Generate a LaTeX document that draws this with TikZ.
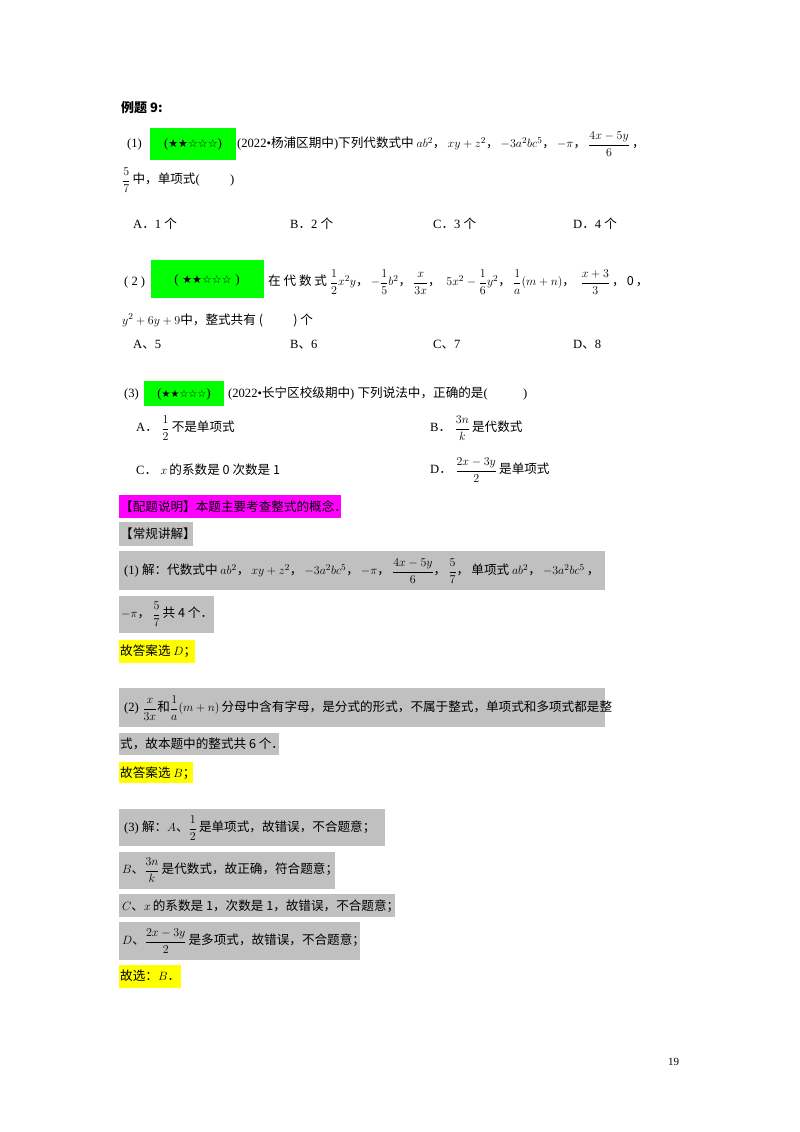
\documentclass[tikz,border=0pt]{standalone}
\usepackage{amsmath}
\usepackage{fontspec}
\setmainfont{Liberation Serif}
\newfontfamily\cjk{Noto Sans CJK SC}
\newfontfamily\djv{DejaVu Sans}
\XeTeXinterchartokenstate=1
\newXeTeXintercharclass\cjkclass
\makeatletter
\def\setcls#1#2{\count@=#1\relax\loop\XeTeXcharclass\count@=\cjkclass\ifnum\count@<#2\advance\count@ 1\repeat}
\setcls{"3000}{"303F}
\setcls{"4E00}{"9FFF}
\setcls{"FF00}{"FFEF}
\makeatother
\XeTeXinterchartoks 0 \cjkclass={\cjk}
\XeTeXinterchartoks 4095 \cjkclass={\cjk}
\XeTeXinterchartoks \cjkclass 0={\rmfamily}
\definecolor{gr}{HTML}{00FF00}
\definecolor{mg}{HTML}{FF00FF}
\definecolor{yl}{HTML}{FFFF00}
\definecolor{gy}{HTML}{C0C0C0}
\newcommand\cm{，\,}
\begin{document}
\begin{tikzpicture}[x=1pt,y=-1pt,
  t/.style={anchor=west,inner sep=0pt,font=\fontsize{12.6}{15}\selectfont},
  st/.style={inner sep=0pt,font=\fontsize{13}{15}\selectfont}]
\useasboundingbox[fill=white] (0,0) rectangle (800,1132);
% highlight boxes
\fill[gr] (150,128) rectangle (236,160);
\fill[gr] (151,260) rectangle (264,298);
\fill[gr] (144,381) rectangle (224,406);
\fill[mg] (119,495) rectangle (341,518);
\fill[gy] (119,522) rectangle (193,546);
\fill[gy] (119,551) rectangle (605,590);
\fill[gy] (119,596) rectangle (214,633);
\fill[yl] (119,640) rectangle (195,663);
\fill[gy] (119,688) rectangle (605,727);
\fill[gy] (119,733) rectangle (279,755);
\fill[yl] (119,762) rectangle (193,783);
\fill[gy] (119,809) rectangle (385,846);
\fill[gy] (119,852) rectangle (335,889);
\fill[gy] (119,894) rectangle (395,917);
\fill[gy] (119,922) rectangle (360,960);
\fill[yl] (119,965) rectangle (181,988);
% title
\node[t,font=\fontsize{13}{16}\selectfont\bfseries] (title) at (121,108) {例题 9:};
% (1)
\node[t] (p1) at (127,144) {(1)};
\node[st] (s1) at (193,144) {({\djv\fontsize{11}{13}\selectfont ★★☆☆☆})};
\node[t] (q1) at (237,144) {(2022•杨浦区期中)下列代数式中 $ab^{2}$\cm{}$xy+z^{2}$\cm{}$-3a^{2}bc^{5}$\cm{}$-\pi$\cm{}$\dfrac{4x-5y}{6}$\,，};
\node[t] (q1b) at (122,180) {$\dfrac{5}{7}$\,中，单项式(\hspace{2.4em})};
\node[t] (o1a) at (133,224) {A．1 个};
\node[t] (o1b) at (290,224) {B．2 个};
\node[t] (o1c) at (433,224) {C．3 个};
\node[t] (o1d) at (573,224) {D．4 个};
% (2)
\node[t] (p2) at (124,282) {( 2 )};
\node[st] (s2) at (207,280) {(\;{\djv\fontsize{11}{13}\selectfont ★★☆☆☆}\;)};
\node[t] (q2) at (268,282) {在 代 数 式 $\dfrac{1}{2}x^{2}y$\cm{}$-\dfrac{1}{5}b^{2}$\cm{}$\dfrac{x}{3x}$\cm{}\;$5x^{2}-\dfrac{1}{6}y^{2}$\cm{}$\dfrac{1}{a}(m+n)$\cm{}\;$\dfrac{x+3}{3}$\,\cm{}0\,，};
\node[t] (q2b) at (122,320) {$y^{2}+6y+9$中，整式共有 (\hspace{2.4em}) 个};
\node[t] (o2a) at (133,345) {A、5};
\node[t] (o2b) at (290,345) {B、6};
\node[t] (o2c) at (433,345) {C、7};
\node[t] (o2d) at (573,345) {D、8};
% (3)
\node[t] (p3) at (124,394) {(3)};
\node[st] (s3) at (184,394) {({\djv\fontsize{10}{12}\selectfont ★★☆☆☆})};
\node[t] (q3) at (228,394) {(2022•长宁区校级期中) 下列说法中，正确的是(\hspace{2.8em})};
\node[t] (o3a) at (136,428) {A．\;$\dfrac{1}{2}$\,不是单项式};
\node[t] (o3b) at (430,428) {B．\;$\dfrac{3n}{k}$\,是代数式};
\node[t] (o3c) at (136,470) {C．\;$x$\,的系数是 0 次数是 1};
\node[t] (o3d) at (430,470) {D．\;$\dfrac{2x-3y}{2}$\,是单项式};
% explanation
\node[t] (pt) at (120,507) {【配题说明】本题主要考查整式的概念．};
\node[t] (cg) at (120,534) {【常规讲解】};
\node[t] (a1) at (124,571) {(1) 解：代数式中 $ab^{2}$\cm{}$xy+z^{2}$\cm{}$-3a^{2}bc^{5}$\cm{}$-\pi$\cm{}$\dfrac{4x-5y}{6}$\cm{}$\dfrac{5}{7}$\cm{}单项式 $ab^{2}$\cm{}$-3a^{2}bc^{5}$\,，};
\node[t] (a1b) at (121,614) {$-\pi$\cm{}$\dfrac{5}{7}$\,共 4 个．};
\node[t] (a1c) at (120,651) {故答案选 $D$；};
\node[t] (a2) at (124,708) {(2)\;$\dfrac{x}{3x}$和$\dfrac{1}{a}(m+n)$\,分母中含有字母，是分式的形式，不属于整式，单项式和多项式都是整};
\node[t] (a2b) at (120,744) {式，故本题中的整式共 6 个．};
\node[t] (a2c) at (120,773) {故答案选 $B$；};
\node[t] (a3) at (124,828) {(3) 解：$A$、$\dfrac{1}{2}$\,是单项式，故错误，不合题意；};
\node[t] (a3b) at (122,870) {$B$、$\dfrac{3n}{k}$\,是代数式，故正确，符合题意；};
\node[t] (a3c) at (122,906) {$C$、$x$\,的系数是 1，次数是 1，故错误，不合题意；};
\node[t] (a3d) at (122,941) {$D$、$\dfrac{2x-3y}{2}$\,是多项式，故错误，不合题意；};
\node[t] (a3e) at (120,976) {故选：$B$．};
\node[t,font=\fontsize{11}{13}\selectfont] (pg) at (668,1062) {19};
\end{tikzpicture}
\end{document}
